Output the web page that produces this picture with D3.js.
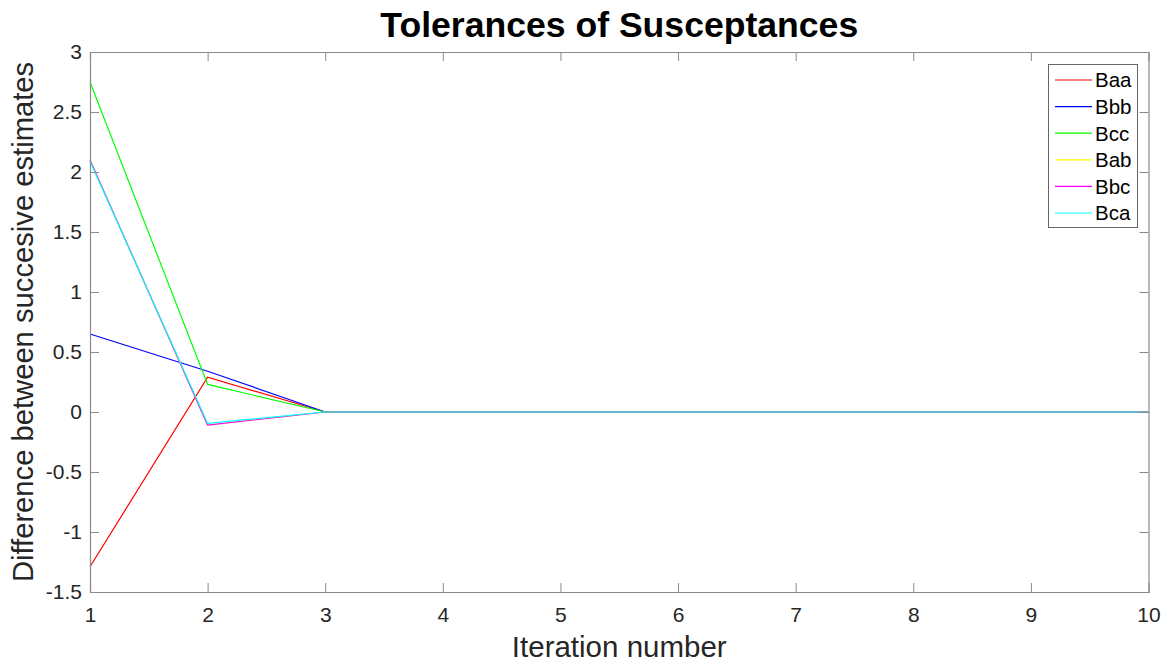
<!DOCTYPE html>
<html><head><meta charset="utf-8">
<script src="https://cdn.jsdelivr.net/npm/d3@7"></script>
<style>body{margin:0;background:#fff;} text{font-family:"Liberation Sans",Arial,sans-serif;}</style>
</head><body><svg id="c" width="1172" height="664"></svg>
<script>
const iterations = [1,2,3,4,5,6,7,8,9,10];
const seriesNames = ["Baa","Bbb","Bcc","Bab","Bbc","Bca"];
const seriesColors = ["#ff0000","#0000ff","#00ff00","#ffff00","#ff00ff","#00ffff"];
const Baa = [-1.29, 0.29, 0, 0, 0, 0, 0, 0, 0, 0];
const Bbb = [0.65, 0.34, 0, 0, 0, 0, 0, 0, 0, 0];
const Bcc = [2.75, 0.23, 0, 0, 0, 0, 0, 0, 0, 0];
const Bab = [2.10, -0.11, 0, 0, 0, 0, 0, 0, 0, 0];
const Bbc = [2.10, -0.11, 0, 0, 0, 0, 0, 0, 0, 0];
const Bca = [2.09, -0.095, 0, 0, 0, 0, 0, 0, 0, 0];
const seriesValues = [Baa,Bbb,Bcc,Bab,Bbc,Bca];
const yTicks = [-1.5,-1,-0.5,0,0.5,1,1.5,2,2.5,3];
const xTicks = [1,2,3,4,5,6,7,8,9,10];

const svg = d3.select("#c");
const L=90, R=1148.5, T=52, B=592;
const x = d3.scaleLinear().domain([1,10]).range([L,R]);
const y = d3.scaleLinear().domain([-1.5,3]).range([B,T]);
const axisColor="#262626", boxColor="#8a8a8a";

// lines
const line = d3.line().x((d,i)=>x(iterations[i])).y(d=>y(d));
seriesValues.forEach((vals,k)=>{
  svg.append("path").datum(vals).attr("d",line).attr("fill","none")
    .attr("stroke",seriesColors[k]).attr("stroke-width",1.2);
});

// axes with inward ticks
const tl=9;
const gB = svg.append("g").attr("transform",`translate(0,${B})`)
  .call(d3.axisBottom(x).tickValues(xTicks).tickSize(-tl).tickPadding(15).tickFormat(d3.format("d")));
const gT = svg.append("g").attr("transform",`translate(0,${T})`)
  .call(d3.axisTop(x).tickValues(xTicks).tickSize(-tl).tickFormat(""));
const gL = svg.append("g").attr("transform",`translate(${L},0)`)
  .call(d3.axisLeft(y).tickValues(yTicks).tickSize(-tl).tickPadding(8).tickFormat(d=>String(d)));
const gR = svg.append("g").attr("transform",`translate(${R},0)`)
  .call(d3.axisRight(y).tickValues(yTicks).tickSize(-tl).tickFormat(""));
[gB,gT,gL,gR].forEach(g=>{
  g.select(".domain").attr("stroke",boxColor).attr("stroke-width",1.2);
  g.selectAll(".tick line").attr("stroke",boxColor).attr("stroke-width",1);
  g.selectAll(".tick text").attr("fill",axisColor).style("font-size","21px")
   .style("font-family","'Liberation Sans',Arial,sans-serif");
});
gB.selectAll(".tick text").attr("dy","0.71em");
gB.selectAll(".tick").filter(d=>d===1||d===10).select("line").remove();
gT.selectAll(".tick").filter(d=>d===1||d===10).select("line").remove();
gL.selectAll(".tick").filter(d=>d===-1.5||d===3).select("line").remove();
gR.selectAll(".tick").filter(d=>d===-1.5||d===3).select("line").remove();

// labels
svg.append("text").attr("x",(L+R)/2).attr("y",37).attr("text-anchor","middle")
  .style("font-size","35.6px").style("font-weight","bold").attr("fill","#000").text("Tolerances of Susceptances");
svg.append("text").attr("x",(L+R)/2).attr("y",657).attr("text-anchor","middle")
  .style("font-size","29.5px").attr("fill",axisColor).text("Iteration number");
svg.append("text").attr("transform",`translate(33,${(T+B)/2}) rotate(-90)`).attr("text-anchor","middle")
  .style("font-size","29.2px").attr("fill",axisColor).text("Difference between succesive estimates");

// legend
const lg = svg.append("g");
const lx=1048.5, ly=64.5, lw=89, lh=163;
lg.append("rect").attr("x",lx).attr("y",ly).attr("width",lw).attr("height",lh)
  .attr("fill","#fff").attr("stroke","#666").attr("stroke-width",1);
const ls = d3.scalePoint().domain(seriesNames).range([80,213]);
seriesNames.forEach((n,k)=>{
  lg.append("line").attr("x1",1055).attr("x2",1092).attr("y1",ls(n)).attr("y2",ls(n))
    .attr("stroke",seriesColors[k]).attr("stroke-width",1.2);
  lg.append("text").attr("x",1095).attr("y",ls(n)).attr("dy","0.36em")
    .style("font-size","20.5px").attr("fill","#000").text(n);
});
</script></body></html>
